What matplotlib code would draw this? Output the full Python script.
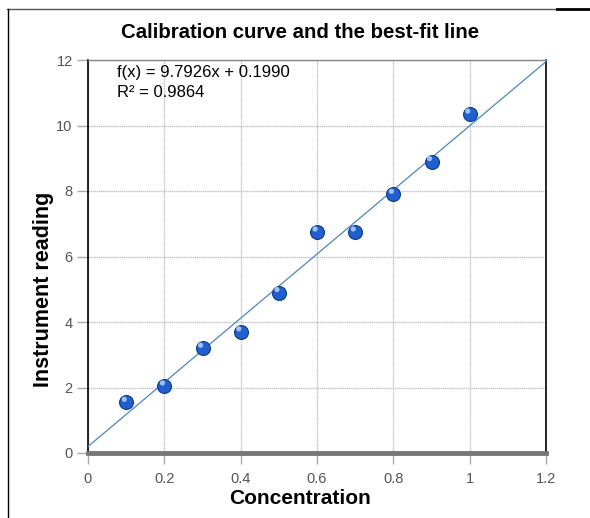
import matplotlib
matplotlib.use("Agg")
import matplotlib.pyplot as plt
from matplotlib.lines import Line2D
import numpy as np

# data
concentration = [0.1, 0.2, 0.3, 0.4, 0.5, 0.6, 0.7, 0.8, 0.9, 1.0]
reading = [1.55, 2.05, 3.2, 3.7, 4.9, 6.75, 6.75, 7.9, 8.9, 10.35]
slope = 9.7926
intercept = 0.1990
r_squared = 0.9864
x_ticks = [0, 0.2, 0.4, 0.6, 0.8, 1, 1.2]
x_tick_labels = ["0", "0.2", "0.4", "0.6", "0.8", "1", "1.2"]
y_ticks = [0, 2, 4, 6, 8, 10, 12]

plt.rcParams['font.family'] = ['Liberation Sans', 'DejaVu Sans']

W, H = 590, 518
fig = plt.figure(figsize=(W / 100, H / 100), dpi=100)
ax = fig.add_axes([88 / W, 1 - 453 / H, (546 - 88) / W, (453 - 60) / H])

# outer frame lines (top and left only)
fig.add_artist(Line2D([7 / W, 557 / W], [1 - 9 / H, 1 - 9 / H], color="#555555", lw=1))
fig.add_artist(Line2D([557 / W, 1], [1 - 9 / H, 1 - 9 / H], color="black", lw=2))
fig.add_artist(Line2D([8 / W, 8 / W], [1 - 9 / H, 0], color="black", lw=1))

# best-fit line
xs = np.array([0, 1.2])
ax.plot(xs, slope * xs + intercept, color="#4a86c5", lw=0.9, zorder=3)

# spheres
ax.scatter(concentration, reading, s=100, color="#1f5fd0", edgecolors="#0d3a8c",
           linewidths=0.8, zorder=4)
ax.scatter(np.array(concentration) - 0.005, np.array(reading) + 0.09, s=14,
           color="#9cc2ff", edgecolors="none", zorder=5)

ax.set_xlim(0, 1.2)
ax.set_ylim(0, 12)
ax.set_xticks(x_ticks)
ax.set_xticklabels(x_tick_labels)
ax.set_yticks(y_ticks)
ax.grid(True, color="#c4c4c4", lw=1, ls=(0, (1, 0.5)))
ax.set_axisbelow(True)

for side in ["left", "right"]:
    ax.spines[side].set_color("black")
    ax.spines[side].set_linewidth(1.2)
ax.spines["top"].set_color("#888888")
ax.spines["top"].set_linewidth(1)
ax.spines["bottom"].set_color("#777777")
ax.spines["bottom"].set_linewidth(3.5)

ax.tick_params(axis="both", colors="#aaaaaa", length=8, width=1, labelsize=10.5,
               labelcolor="#555555")
ax.tick_params(axis="x", pad=6)
ax.tick_params(axis="y", pad=3)

ax.text(0.075, 11.63, f"f(x) = {slope:.4f}x + {intercept:.4f}",
        fontsize=12, color="black", va="center")
ax.text(0.075, 11.02, f"R² = {r_squared:.4f}", fontsize=12, color="black", va="center")

fig.text(300 / W, 1 - 32 / H, "Calibration curve and the best-fit line",
         ha="center", va="center", fontsize=14.7, fontweight="bold")
ax.set_xlabel("Concentration", fontsize=15, fontweight="bold", ha="center", va="center")
ax.set_ylabel("Instrument reading", fontsize=15.5, fontweight="bold", ha="center", va="center")
ax.xaxis.set_label_coords((300 - 88) / 458, (453 - 499) / 393)
ax.yaxis.set_label_coords((44 - 88) / 458, (453 - 289) / 393)

fig.savefig("out.png", dpi=100)
